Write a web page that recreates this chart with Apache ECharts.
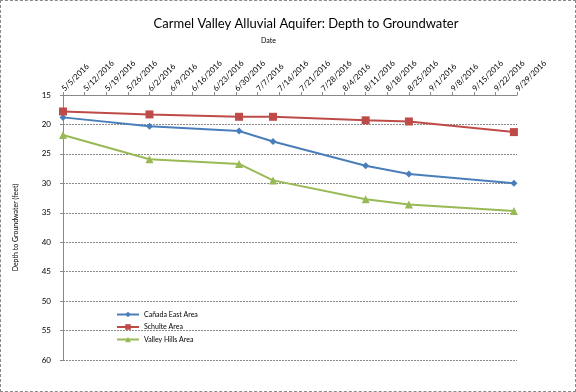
<!DOCTYPE html>
<html><head><meta charset="utf-8">
<script src="https://cdn.jsdelivr.net/npm/echarts@6/dist/echarts.min.js"></script>
<style>
html,body{margin:0;padding:0;background:#fff;}
#c{width:576px;height:392px;box-sizing:border-box;border:1px dashed #8a8a8a;}
</style></head>
<body><div id="c"></div>
<script>
const titleText = "Carmel Valley Alluvial Aquifer: Depth to Groundwater";
const xAxisName = "Date";
const yAxisName = "Depth to Groundwater (feet)";
const axisStart = "5/5/2016";
const axisEnd = "9/29/2016";
const sampleDates = ["5/5/2016","6/2/2016","7/1/2016","7/12/2016","8/11/2016","8/25/2016","9/28/2016"];
const seriesNames = ["Cañada East Area","Schulte Area","Valley Hills Area"];
const canadaEast = [18.8, 20.3, 21.1, 22.9, 27.0, 28.4, 30.0];
const schulte = [17.8, 18.3, 18.7, 18.7, 19.3, 19.5, 21.3];
const valleyHills = [21.8, 25.9, 26.7, 29.5, 32.7, 33.6, 34.7];
const yMin = 15, yMax = 60, yStep = 5;

function toUTC(s){const p=s.split('/').map(Number);return Date.UTC(p[2],p[0]-1,p[1]);}
const DAY = 86400000;
const t0 = toUTC(axisStart);
const dayOf = s => (toUTC(s)-t0)/DAY;
const maxDay = dayOf(axisEnd);
function fmt(v){const d=new Date(t0+v*DAY);return (d.getUTCMonth()+1)+'/'+d.getUTCDate()+'/'+d.getUTCFullYear();}
const pts = arr => arr.map((v,i)=>[dayOf(sampleDates[i]), v]);

const colors = ['#4A7EBB','#BE4B48','#98B954'];
const symbols = ['diamond','rect','triangle'];
const symSizes = [7,8,8];
const all = [canadaEast, schulte, valleyHills];
const FONT = 'Lato';

const chart = echarts.init(document.getElementById('c'), null, {renderer:'canvas'});
chart.setOption({
  animation:false,
  textStyle:{fontFamily:FONT},
  title:{text:titleText,left:300,top:11,textAlign:'center',
    textStyle:{fontFamily:FONT,fontSize:13,fontWeight:'normal',color:'#000'}},
  graphic:[{type:'text',left:260,top:36,style:{text:xAxisName,font:'7px '+FONT,fill:'#000'}}],
  legend:{orient:'vertical',left:110,top:305,itemWidth:22,itemHeight:7,itemGap:5.5,
    textStyle:{fontSize:7,color:'#000',fontFamily:FONT},
    data:seriesNames},
  grid:{left:62,right:58,top:94,bottom:31,containLabel:false},
  xAxis:{type:'value',position:'top',min:0,max:maxDay,interval:7,
    axisLine:{lineStyle:{color:'#888',width:1}},
    axisTick:{show:true,length:3,lineStyle:{color:'#888'}},
    splitLine:{show:false},
    axisLabel:{rotate:-45,fontSize:8,color:'#000',margin:5,formatter:fmt,fontFamily:FONT}},
  yAxis:{type:'value',inverse:true,min:yMin,max:yMax,interval:yStep,
    name:yAxisName,nameLocation:'middle',nameGap:44,
    nameTextStyle:{fontSize:7,color:'#000',fontFamily:FONT},
    axisLine:{show:true,lineStyle:{color:'#888'}},
    axisTick:{show:true,length:3,lineStyle:{color:'#888'}},
    splitLine:{show:true,lineStyle:{color:'#8a8a8a',type:[2,1],width:1}},
    axisLabel:{fontSize:8,color:'#000',margin:12,fontFamily:FONT}},
  series: all.map((arr,i)=>({
    name:seriesNames[i],type:'line',data:pts(arr),
    symbol:symbols[i],symbolSize:symSizes[i],showAllSymbol:true,
    lineStyle:{color:colors[i],width:2},
    itemStyle:{color:colors[i]}
  }))
});
</script></body></html>
